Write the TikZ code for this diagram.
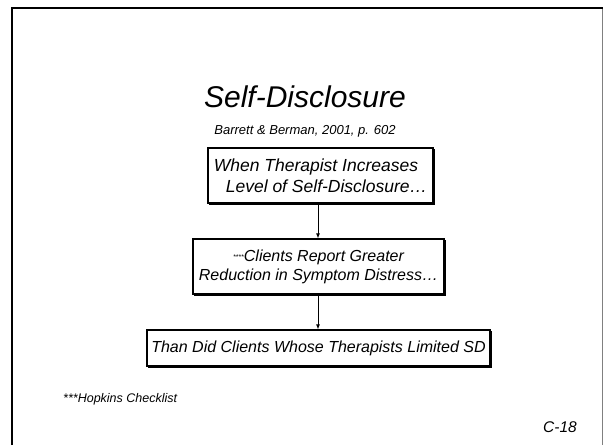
\documentclass[tikz,border=0pt]{standalone}
\usepackage{fontspec}
\setmainfont{Liberation Sans}
\usetikzlibrary{shadows,arrows.meta}
\begin{document}
\begin{tikzpicture}[x=1pt,y=-1pt,
  flowbox/.style={draw=black,line width=1.3pt,fill=white,inner sep=0pt,
    copy shadow={shadow xshift=1.2pt,shadow yshift=-1.6pt,draw=black,fill=black},
    font=\fontsize{16}{19}\selectfont\itshape},
  link/.style={-{Latex[length=5pt,width=4pt]},line width=0.8pt},
  note/.style={inner sep=0pt,font=\itshape}]
  \useasboundingbox (0,0) rectangle (603,445);
  % slide frame
  \draw[line width=2pt,black] (12,445) -- (12,8) -- (603,8);
  \draw[line width=1pt,gray] (602,9) -- (602,445);
  % headings
  \node[note,font=\fontsize{30}{34}\selectfont\itshape] (title) at (305,97) {Self-Disclosure};
  \node[note,font=\fontsize{13}{16}\selectfont\itshape] (cite) at (305,131) {Barrett \& Berman, 2001, p. 602};
  % flow of boxes
  \node[flowbox,minimum width=225pt,minimum height=55pt,align=left,
    font=\fontsize{17.5}{21}\selectfont\itshape] (b1) at (320.5,175.5)
    {When Therapist Increases\\\hspace*{12pt}Level of Self-Disclosure…};
  \node[flowbox,minimum width=251pt,minimum height=55pt,align=center] (b2) at (318.5,266.5)
    {\raisebox{2pt}{\fontsize{7}{8}\selectfont ****}Clients Report Greater\\Reduction in Symptom Distress…};
  \node[flowbox,minimum width=343pt,minimum height=36pt] (b3) at (318.5,348)
    {Than Did Clients Whose Therapists Limited SD};
  \draw[link] (b1.south -| 318,0) -- (b2.north -| 318,0);
  \draw[link] (b2.south -| 318,0) -- (b3.north -| 318,0);
  % footnotes
  \node[note,anchor=west,font=\fontsize{12.5}{14}\selectfont\itshape] (foot) at (63,399) {***Hopkins Checklist};
  \node[note,anchor=west,font=\fontsize{15.5}{18}\selectfont\itshape] (page) at (543,427) {C-18};
\end{tikzpicture}
\end{document}
